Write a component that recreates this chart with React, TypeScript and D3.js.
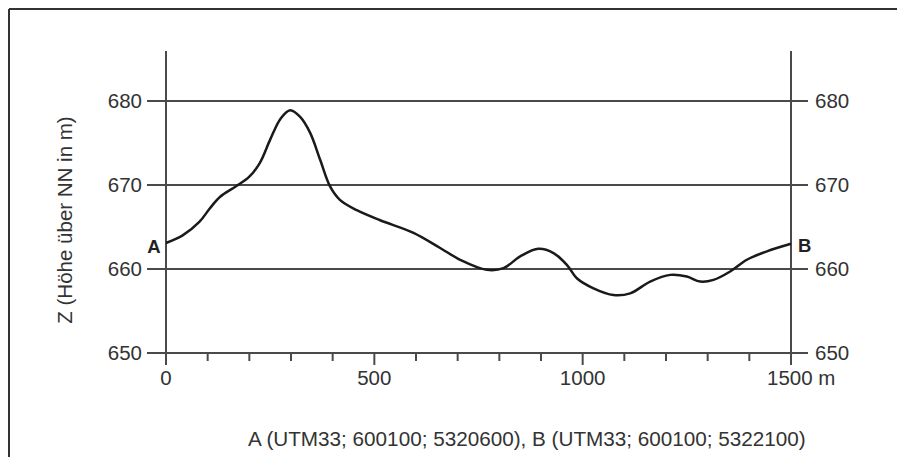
import * as d3 from "d3";
import React from "react";

// profile along the section A -> B (distance in m, elevation in m above NN)
const distances = [0, 40, 80, 105, 130, 170, 200, 225, 250, 275, 298, 322, 346, 370, 394, 418, 458, 514, 594, 658, 706, 770, 810, 850, 894, 930, 962, 986, 1026, 1074, 1114, 1162, 1210, 1250, 1282, 1314, 1354, 1394, 1442, 1500];
const elevations = [663.1, 664.0, 665.6, 667.2, 668.6, 669.9, 671.0, 672.6, 675.4, 677.9, 678.9, 678.1, 676.2, 673.0, 669.8, 668.2, 667.0, 665.8, 664.3, 662.5, 661.1, 659.9, 660.1, 661.5, 662.4, 661.9, 660.5, 658.9, 657.7, 656.9, 657.1, 658.5, 659.3, 659.1, 658.5, 658.7, 659.7, 661.1, 662.1, 663.0];

const yTicks = [650, 660, 670, 680];
const xLabelTicks = [0, 500, 1000];
const yTitle = "Z (Höhe über NN in m)";
const footer = "A (UTM33; 600100; 5320600), B (UTM33; 600100; 5322100)";

const W = 897;
const H = 457;
const FONT = "'Liberation Sans', Arial, sans-serif";
const AXIS = "#4a4a4a";
const TEXT = "#333";
const FS = 20.5;

export default function App() {
  const x = d3.scaleLinear().domain([0, 1500]).range([166, 791]);
  const y = d3.scaleLinear().domain([650, 680]).range([353, 101]);

  const pts: [number, number][] = distances.map((d, i) => [d, elevations[i]]);
  const line = d3
    .line<[number, number]>()
    .x((d) => x(d[0]))
    .y((d) => y(d[1]))
    .curve(d3.curveCatmullRom.alpha(0.5));

  const minorTicks = x.ticks(15);
  const x0 = x(0);
  const x1 = x(1500);
  const axisTop = 51;
  const axisBottom = 365;

  return (
    <svg
      width={W}
      height={H}
      style={{ position: "absolute", left: 0, top: 0, background: "#fff" }}
      fontFamily={FONT}
    >
      {/* frame */}
      <line x1={9} y1={9} x2={W} y2={9} stroke="#333" strokeWidth={2} />
      <line x1={9} y1={9} x2={9} y2={H} stroke="#333" strokeWidth={2} />

      {/* horizontal grid lines with ticks on both sides */}
      {yTicks.map((t) => (
        <g key={t}>
          <line x1={147} x2={808} y1={y(t)} y2={y(t)} stroke={AXIS} strokeWidth={2} />
          <text x={142} y={y(t)} dy="0.35em" textAnchor="end" fontSize={FS} fill={TEXT}>
            {t}
          </text>
          <text x={815} y={y(t)} dy="0.35em" textAnchor="start" fontSize={FS} fill={TEXT}>
            {t}
          </text>
        </g>
      ))}

      {/* vertical axes */}
      <line x1={x0} x2={x0} y1={axisTop} y2={axisBottom} stroke={AXIS} strokeWidth={2} />
      <line x1={x1} x2={x1} y1={axisTop} y2={axisBottom} stroke={AXIS} strokeWidth={2} />

      {/* x ticks */}
      {minorTicks.map((t) => (
        <line
          key={t}
          x1={x(t)}
          x2={x(t)}
          y1={y(650)}
          y2={t % 500 === 0 ? axisBottom : 361}
          stroke={AXIS}
          strokeWidth={2}
        />
      ))}
      {xLabelTicks.map((t) => (
        <text key={t} x={x(t)} y={385} textAnchor="middle" fontSize={FS} fill={TEXT}>
          {t}
        </text>
      ))}
      <text x={x(1500) - 24} y={385} textAnchor="start" fontSize={FS} fill={TEXT}>
        1500 m
      </text>

      {/* profile */}
      <path d={line(pts) ?? ""} fill="none" stroke="#1a1a1a" strokeWidth={2.5} strokeLinejoin="round" />

      <text x={154} y={253} textAnchor="middle" fontSize={18.5} fontWeight="bold" fill="#222">
        A
      </text>
      <text x={798} y={252} textAnchor="start" fontSize={18.5} fontWeight="bold" fill="#222">
        B
      </text>

      {/* y title */}
      <text
        transform="translate(72,220) rotate(-90)"
        textAnchor="middle"
        fontSize={FS}
        fill={TEXT}
      >
        {yTitle}
      </text>

      {/* footer */}
      <text x={248} y={446} textAnchor="start" fontSize={20.7} fill={TEXT}>
        {footer}
      </text>
    </svg>
  );
}
